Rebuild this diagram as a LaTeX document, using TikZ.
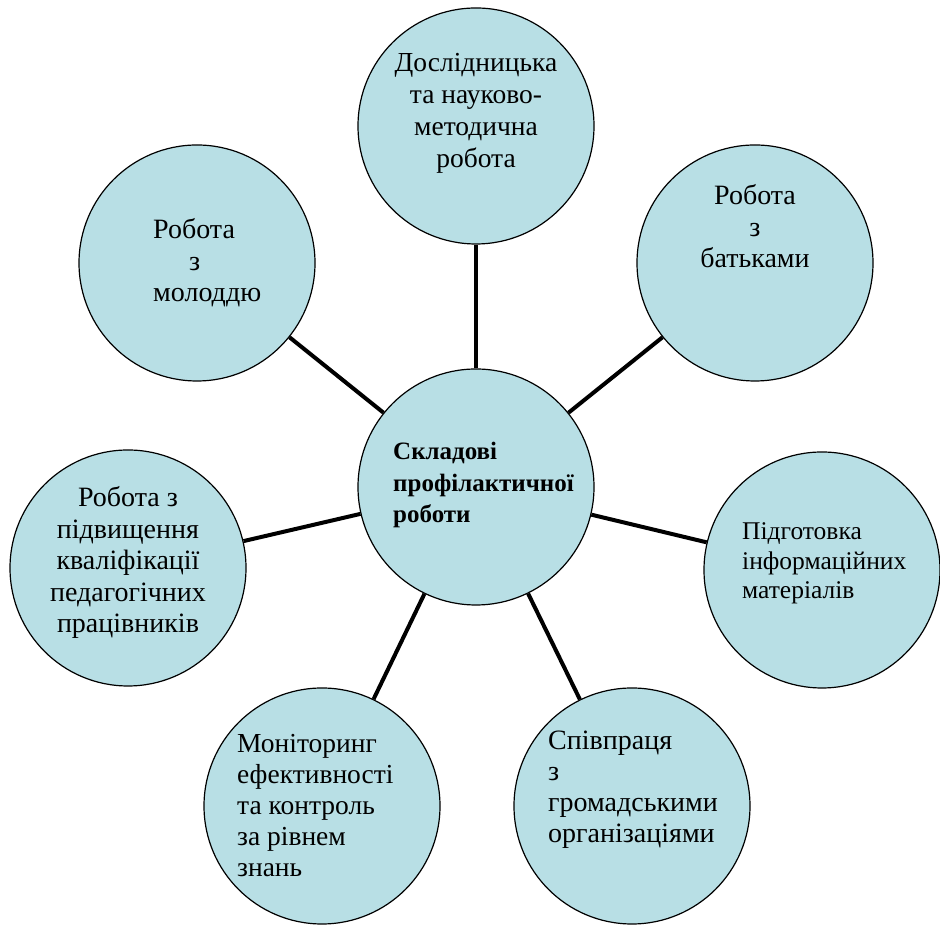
\documentclass[tikz,border=0pt]{standalone}
\usepackage{fontspec}
\setmainfont{Liberation Serif}
\definecolor{bubblefill}{RGB}{184,223,229}

\begin{document}
\begin{tikzpicture}[x=1pt, y=1pt,
    bubble/.style={circle, draw=black, line width=1.2pt, fill=bubblefill, minimum size=236pt, inner sep=0pt},
    txt/.style={inner sep=0pt, font=\fontsize{28pt}{31.5pt}\selectfont},
    link/.style={line width=4pt}]
    \useasboundingbox (0,0) rectangle (940,925);
    % circles
    \node[bubble] (C) at (476,438) {};
    \node[bubble] (T) at (476,799) {};
    \node[bubble] (TR) at (755,662) {};
    \node[bubble] (TL) at (197,662) {};
    \node[bubble] (L) at (128,357) {};
    \node[bubble] (R) at (822,355) {};
    \node[bubble] (BL) at (322,119) {};
    \node[bubble] (BR) at (632,119) {};
    % links
    \foreach \n in {T,TR,R,BR,BL,L,TL} { \draw[link] (C) -- (\n); }
    % texts (anchored on the last line)
    \node[txt, anchor=base west, align=left, font=\fontsize{25pt}{31.5pt}\selectfont\bfseries] (Ctext) at (393,402) {Складові\\профілактичної\\роботи};
    \node[txt, anchor=base, align=center, font=\fontsize{27.5pt}{32pt}\selectfont] (Ttext) at (476,757) {Дослідницька\\та науково-\\методична\\робота};
    \node[txt, anchor=base, align=center] (TRtext) at (755,657) {Робота\\з\\батьками};
    \node[txt, anchor=base west, align=left] (TLtext) at (153,623) {Робота\\\hspace*{36pt}з\\молоддю};
    \node[txt, anchor=base, align=center] (Ltext) at (128,292) {Робота з\\підвищення\\кваліфікації\\педагогічних\\працівників};
    \node[txt, anchor=base west, align=left, font=\fontsize{25.5pt}{29.5pt}\selectfont] (Rtext) at (742,326) {Підготовка\\інформаційних\\матеріалів};
    \node[txt, anchor=base west, align=left, font=\fontsize{27.5pt}{31pt}\selectfont] (BLtext) at (237,48) {Моніторинг\\ефективності\\та контроль\\за рівнем\\знань};
    \node[txt, anchor=base west, align=left, font=\fontsize{28pt}{31pt}\selectfont] (BRtext) at (548,82) {Співпраця\\з\\громадськими\\організаціями};
\end{tikzpicture}
\end{document}
